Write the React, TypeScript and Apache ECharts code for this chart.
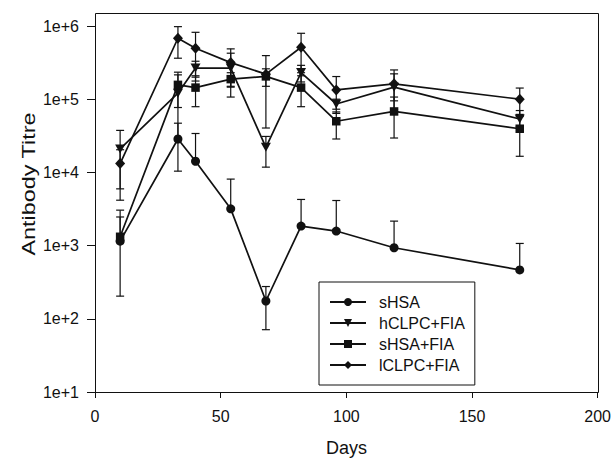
import React, { useEffect, useRef } from "react";
import * as echarts from "echarts";

// ---- data ----
const days = [10, 33, 40, 54, 68, 82, 96, 119, 169];
const seriesNames = ["sHSA", "hCLPC+FIA", "sHSA+FIA", "lCLPC+FIA"];

const sHSAMean = [1150, 28600, 14200, 3180, 175, 1850, 1580, 935, 465];
const sHSAHigh = [2460, 47000, 34000, 8100, 276, 4270, 4130, 2160, 1070];
const sHSALow = [204, 10400, null, null, 71, null, null, null, null];

const hCLPCMean = [20900, 121000, 266000, 266000, 22000, 231000, 86000, 146000, 53600];
const hCLPCHigh = [37500, 215000, 330000, 425000, 31000, 290000, 100000, 222000, 70000];
const hCLPCLow = [4170, 27000, 200000, 107000, 11800, 172000, 73000, 95000, 42000];

const sHSAFIAMean = [1320, 157000, 144000, 188000, 205000, 144000, 50000, 68000, 39500];
const sHSAFIAHigh = [3050, 234000, 209000, 230000, 260000, 209000, 67000, 107000, 62000];
const sHSAFIALow = [null, 77000, 79000, 150000, 150000, 79000, 28600, 29500, 16600];

const lCLPCMean = [13200, 680000, 497000, 316000, 220000, 513000, 134000, 162000, 100000];
const lCLPCHigh = [20400, 980000, 820000, 487000, 394000, 795000, 204000, 251000, 142000];
const lCLPCLow = [5960, 363000, 177000, 146000, 40400, 230000, 64000, 73000, 58000];

const yTickLabels = ["1e+1", "1e+2", "1e+3", "1e+4", "1e+5", "1e+6"];
const xTickValues = [0, 50, 100, 150, 200];

const FONT = "'Liberation Sans', Arial, Helvetica, sans-serif";
const INK = "#111111";
const TRI_DOWN = "path://M0,0L10,0L5,9Z";

type Spec = {
  name: string;
  mean: number[];
  high: number[];
  low: (number | null)[];
  symbol: string;
  size: number | number[];
};

const specs: Spec[] = [
  { name: seriesNames[0], mean: sHSAMean, high: sHSAHigh, low: sHSALow, symbol: "circle", size: 9 },
  { name: seriesNames[1], mean: hCLPCMean, high: hCLPCHigh, low: hCLPCLow, symbol: TRI_DOWN, size: [10, 9] },
  { name: seriesNames[2], mean: sHSAFIAMean, high: sHSAFIAHigh, low: sHSAFIALow, symbol: "rect", size: 8.5 },
  { name: seriesNames[3], mean: lCLPCMean, high: lCLPCHigh, low: lCLPCLow, symbol: "diamond", size: [10, 11] },
];

export default function App() {
  const ref = useRef<HTMLDivElement>(null);

  useEffect(() => {
    if (!ref.current) return;
    const chart = echarts.init(ref.current, undefined, { renderer: "svg" });

    const series: any[] = [];
    specs.forEach((s) => {
      series.push({
        name: s.name + " err",
        type: "custom",
        z: 1,
        clip: false,
        silent: true,
        encode: { x: 0, y: 1 },
        data: days.map((d, i) => [d, s.mean[i], s.low[i] ?? 0, s.high[i]]),
        renderItem: (params: any, api: any) => {
          const x = api.value(0);
          const m = api.value(1);
          const lo = api.value(2);
          const hi = api.value(3);
          const top = api.coord([x, hi]);
          const bot = api.coord([x, lo > 0 ? lo : m]);
          const w = 4;
          const st = { stroke: INK, lineWidth: 1.2 };
          const children: any[] = [
            { type: "line", shape: { x1: top[0], y1: top[1], x2: bot[0], y2: bot[1] }, style: st },
            { type: "line", shape: { x1: top[0] - w, y1: top[1], x2: top[0] + w, y2: top[1] }, style: st },
          ];
          if (lo > 0) {
            children.push({ type: "line", shape: { x1: bot[0] - w, y1: bot[1], x2: bot[0] + w, y2: bot[1] }, style: st });
          }
          return { type: "group", children };
        },
      });
      series.push({
        name: s.name,
        type: "line",
        z: 3,
        clip: false,
        data: days.map((d, i) => [d, s.mean[i]]),
        symbol: s.symbol,
        symbolSize: s.size,
        showAllSymbol: true,
        lineStyle: { color: INK, width: 1.7 },
        itemStyle: { color: INK, borderWidth: 0 },
      });
    });

    chart.setOption({
      animation: false,
      backgroundColor: "#ffffff",
      textStyle: { fontFamily: FONT },
      grid: { left: 95, right: 16, top: 26, bottom: 66, containLabel: false },
      legend: {
        data: seriesNames,
        orient: "vertical",
        left: 319,
        top: 282,
        padding: [12, 10, 12, 10],
        itemWidth: 36,
        itemHeight: 10,
        itemGap: 5,
        borderColor: INK,
        borderWidth: 1,
        selectedMode: false,
        textStyle: { fontFamily: FONT, fontSize: 16, color: INK, padding: [0, 0, 0, 8] },
      },
      xAxis: {
        type: "value",
        min: xTickValues[0],
        max: xTickValues[xTickValues.length - 1],
        interval: 50,
        splitLine: { show: false },
        axisLine: { show: true, lineStyle: { color: INK, width: 1 } },
        axisTick: { show: true, inside: false, length: 6, lineStyle: { color: INK } },
        axisLabel: { color: INK, fontSize: 16, fontFamily: FONT, margin: 16 },
      },
      yAxis: {
        type: "log",
        logBase: 10,
        min: 10,
        max: 1e6,
        splitLine: { show: false },
        axisLine: { show: true, lineStyle: { color: INK, width: 1 } },
        axisTick: { show: true, inside: false, length: 8, lineStyle: { color: INK } },
        minorTick: { show: false },
        axisLabel: {
          color: INK,
          fontSize: 16,
          fontFamily: FONT,
          margin: 16,
          formatter: (v: number) => {
            const k = Math.round(Math.log10(v));
            return yTickLabels[k - 1] ?? "";
          },
        },
      },
      graphic: [
        {
          type: "rect",
          silent: true,
          z: 0,
          shape: { x: 95.5, y: 13.5, width: 503, height: 379 },
          style: { fill: "none", stroke: INK, lineWidth: 1 },
        },
        {
          type: "text",
          x: 346.5,
          y: 448,
          style: { text: "Days", fontFamily: FONT, fontSize: 18, fill: INK, align: "center", verticalAlign: "middle" },
        },
        {
          type: "text",
          x: 29,
          y: 184,
          rotation: Math.PI / 2,
          scaleX: 1.3,
          style: { text: "Antibody Titre", fontFamily: FONT, fontSize: 18, fill: INK, align: "center", verticalAlign: "middle" },
        },
      ],
      series,
    });

    return () => chart.dispose();
  }, []);

  return <div ref={ref} style={{ width: 614, height: 458, position: "absolute", left: 0, top: 0 }} />;
}
